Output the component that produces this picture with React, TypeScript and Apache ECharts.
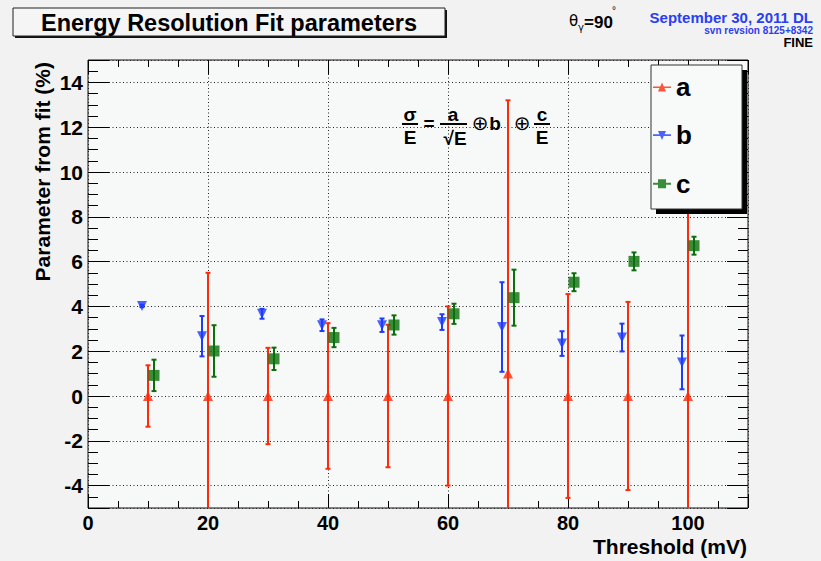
import React, { useEffect, useRef } from 'react';
import * as echarts from 'echarts';

// ---- data ----
const aX = [10, 20, 30, 40, 50, 60, 70, 80, 90, 100];
const aValues = [0, 0, 0, 0, 0, 0, 1.0, 0, 0, 0];
const aErrors = [1.37, 5.5, 2.15, 3.25, 3.18, 4.0, 12.2, 4.55, 4.2, 9.0];

const bX = [9, 19, 29, 39, 49, 59, 69, 79, 89, 99];
const bValues = [4.02, 2.67, 3.67, 3.16, 3.16, 3.3, 3.08, 2.34, 2.61, 1.5];
const bErrors = [0.05, 0.9, 0.22, 0.26, 0.3, 0.35, 2.0, 0.55, 0.62, 1.2];

const cX = [11, 21, 31, 41, 51, 61, 71, 81, 91, 101];
const cValues = [0.92, 2.01, 1.66, 2.61, 3.17, 3.67, 4.39, 5.08, 6.01, 6.71];
const cErrors = [0.7, 1.15, 0.5, 0.43, 0.43, 0.45, 1.25, 0.4, 0.4, 0.4];

const seriesNames = ['a', 'b', 'c'];
const xTickLabels = [0, 20, 40, 60, 80, 100];
const yTickLabels = [-4, -2, 0, 2, 4, 6, 8, 10, 12, 14];

const FONT = "'Liberation Sans', Arial, Helvetica, sans-serif";
const RED = '#ff2a0a';
const BLUE = '#1e3cff';
const GREEN = '#0b700b';

function errData(xs: number[], vs: number[], es: number[]) {
  return xs.map((x, i) => [x, vs[i], vs[i] - es[i], vs[i] + es[i]]);
}

function errSeries(name: string, data: number[][], color: string) {
  return {
    type: 'custom',
    name,
    data,
    clip: true,
    silent: true,
    z: 3,
    encode: { x: 0, y: 1 },
    renderItem: (params: any, api: any) => {
      const x = api.value(0);
      const top = api.coord([x, api.value(3)]);
      const bot = api.coord([x, api.value(2)]);
      const style = { stroke: color, lineWidth: 2 };
      const cap = 2.5;
      return {
        type: 'group',
        children: [
          { type: 'line', shape: { x1: top[0], y1: top[1], x2: bot[0], y2: bot[1] }, style },
          { type: 'line', shape: { x1: top[0] - cap, y1: top[1], x2: top[0] + cap, y2: top[1] }, style },
          { type: 'line', shape: { x1: bot[0] - cap, y1: bot[1], x2: bot[0] + cap, y2: bot[1] }, style },
        ],
      };
    },
  };
}

const tickStyle = { color: '#000', width: 1 };

function xAx(position: string, interval: number, len: number, major: boolean, labels: boolean) {
  return {
    type: 'value',
    position,
    min: 0,
    max: 110,
    interval,
    axisLine: { show: false, onZero: false },
    axisTick: { show: true, inside: true, length: len, lineStyle: tickStyle },
    splitLine: {
      show: major && labels,
      lineStyle: { color: '#222', width: 1, type: [1, 2.5] },
    },
    axisLabel: {
      show: labels,
      margin: 5,
      color: '#000',
      fontFamily: FONT,
      fontWeight: 'bold',
      fontSize: 20,
      lineHeight: 20,
      formatter: (v: number) => (xTickLabels.indexOf(v) >= 0 ? String(v) : ''),
    },
  };
}

function yAx(position: string, minor: boolean, labels: boolean) {
  const base: any = {
    type: 'value',
    position,
    min: -5,
    max: 15,
    axisLine: { show: false, onZero: false },
    axisTick: { show: true, inside: true, length: minor ? 10 : 21, lineStyle: tickStyle },
    splitLine: {
      show: !minor && labels,
      lineStyle: { color: '#222', width: 1, type: [1, 2.5] },
    },
    axisLabel: {
      show: labels,
      margin: 5,
      color: '#000',
      fontFamily: FONT,
      fontWeight: 'bold',
      fontSize: 21,
      formatter: (v: number) => (yTickLabels.indexOf(v) >= 0 ? String(v) : ''),
    },
  };
  if (minor) base.interval = 0.5;
  else base.splitNumber = 10;
  return base;
}

function legendIcon(kind: string) {
  if (kind === 'a') return 'path://M0,4 L18,4 L18,5.6 L0,5.6 Z M9,0 L13,9 L5,9 Z';
  if (kind === 'b') return 'path://M0,3.4 L18,3.4 L18,5 L0,5 Z M5,0 L13,0 L9,9 Z';
  return 'path://M0,3.5 L18,3.5 L18,5.5 L0,5.5 Z M5,0 L13,0 L13,9 L5,9 Z';
}

function ftext(x: number, y: number, text: string, size = 19, extra: any = {}) {
  return {
    type: 'text',
    x,
    y,
    z: 10,
    style: {
      text,
      fill: '#000',
      font: `bold ${size}px ${FONT}`,
      textAlign: 'center',
      textVerticalAlign: 'middle',
      ...extra,
    },
  };
}

function fline(x1: number, x2: number, y: number) {
  return { type: 'line', z: 10, shape: { x1, y1: y, x2, y2: y }, style: { stroke: '#000', lineWidth: 2 } };
}

export default function App() {
  const ref = useRef<HTMLDivElement>(null);

  useEffect(() => {
    if (!ref.current) return;
    const chart = echarts.init(ref.current, undefined, { renderer: 'svg' });

    const option: any = {
      animation: false,
      backgroundColor: '#f2f2f2',
      grid: {
        left: 88,
        right: 73,
        top: 60,
        bottom: 53,
        show: true,
        backgroundColor: '#f6f9f7',
        borderColor: '#111',
        borderWidth: 1,
      },
      xAxis: [
        xAx('bottom', 20, 14, true, true),
        xAx('bottom', 5, 7, false, false),
        xAx('top', 20, 14, true, false),
        xAx('top', 5, 7, false, false),
      ],
      yAxis: [
        yAx('left', false, true),
        yAx('left', true, false),
        yAx('right', false, false),
        yAx('right', true, false),
      ],
      legend: {
        orient: 'vertical',
        left: 653,
        top: 74,
        padding: 0,
        itemGap: 22.4,
        itemWidth: 18,
        itemHeight: 9,
        z: 20,
        selectedMode: false,
        textStyle: { fontFamily: FONT, fontWeight: 'bold', fontSize: 26, lineHeight: 25, color: '#000' },
        data: seriesNames.map((n) => ({ name: n, icon: legendIcon(n) })),
      },
      series: [
        errSeries('a-err', errData(aX, aValues, aErrors), RED),
        errSeries('b-err', errData(bX, bValues, bErrors), BLUE),
        errSeries('c-err', errData(cX, cValues, cErrors), GREEN),
        {
          type: 'scatter',
          name: 'a',
          z: 5,
          symbol: 'triangle',
          symbolSize: 10,
          itemStyle: { color: RED },
          data: aX.map((x, i) => [x, aValues[i]]),
        },
        {
          type: 'scatter',
          name: 'b',
          z: 5,
          symbol: 'triangle',
          symbolRotate: 180,
          symbolSize: 10,
          itemStyle: { color: BLUE },
          data: bX.map((x, i) => [x, bValues[i]]),
        },
        {
          type: 'scatter',
          name: 'c',
          z: 5,
          symbol: 'rect',
          symbolSize: 11,
          itemStyle: { color: GREEN },
          data: cX.map((x, i) => [x, cValues[i]]),
        },
      ],
      graphic: [
        // title box
        { type: 'rect', z: 10, shape: { x: 15, y: 10, width: 432, height: 28 }, style: { fill: '#111' } },
        {
          type: 'rect',
          z: 11,
          shape: { x: 13, y: 8, width: 432, height: 28 },
          style: { fill: '#f5f5f5', stroke: '#222', lineWidth: 1 },
        },
        {
          type: 'text',
          z: 12,
          x: 229,
          y: 22.5,
          style: {
            text: 'Energy Resolution Fit parameters',
            fill: '#000',
            font: `bold 23.5px ${FONT}`,
            textAlign: 'center',
            textVerticalAlign: 'middle',
          },
        },
        // theta label
        { type: 'text', z: 10, x: 569, y: 21, style: { text: 'θ', fill: '#000', font: `15px 'DejaVu Sans', sans-serif`, textVerticalAlign: 'middle' } },
        { type: 'text', z: 10, x: 578, y: 27, style: { text: 'γ', fill: '#000', font: `10px 'DejaVu Sans', sans-serif`, textVerticalAlign: 'middle' } },
        { type: 'text', z: 10, x: 584, y: 22, style: { text: '=90', fill: '#000', font: `bold 17px ${FONT}`, textVerticalAlign: 'middle' } },
        { type: 'text', z: 10, x: 612, y: 10, style: { text: '°', fill: '#000', font: `10px ${FONT}`, textVerticalAlign: 'middle' } },
        // date / svn / FINE
        { type: 'text', z: 10, x: 813, y: 17, style: { text: 'September 30, 2011 DL', fill: '#2a3ff0', font: `bold 15px ${FONT}`, textAlign: 'right', textVerticalAlign: 'middle' } },
        { type: 'text', z: 10, x: 813, y: 30.5, style: { text: 'svn revsion 8125+8342', fill: '#2a3ff0', font: `bold 10px ${FONT}`, textAlign: 'right', textVerticalAlign: 'middle' } },
        { type: 'text', z: 10, x: 813, y: 42.5, style: { text: 'FINE', fill: '#000', font: `bold 13px ${FONT}`, textAlign: 'right', textVerticalAlign: 'middle' } },
        // formula
        ftext(410, 114, 'σ', 19),
        fline(402, 418, 124),
        ftext(410, 137, 'E', 19),
        ftext(429, 123, '=', 19),
        ftext(453, 114, 'a', 19),
        fline(440, 467, 124),
        ftext(455, 138, '√E', 19),
        ftext(480, 123, '⊕', 20, { font: `20px 'DejaVu Sans', sans-serif` }),
        ftext(495, 123, 'b', 19),
        ftext(522, 123, '⊕', 20, { font: `20px 'DejaVu Sans', sans-serif` }),
        ftext(542, 114, 'c', 19),
        fline(534, 550, 124),
        ftext(542, 137, 'E', 19),
        // legend box
        { type: 'rect', z: 15, shape: { x: 656, y: 70, width: 91, height: 144 }, style: { fill: '#000' } },
        {
          type: 'rect',
          z: 16,
          shape: { x: 651, y: 65, width: 91, height: 144 },
          style: { fill: '#f7faf8', stroke: '#333', lineWidth: 1 },
        },
        // axis titles
        {
          type: 'text',
          z: 10,
          x: 42,
          y: 62,
          rotation: Math.PI / 2,
          style: {
            text: 'Parameter from fit (%)',
            fill: '#000',
            font: `bold 21px ${FONT}`,
            textAlign: 'right',
            textVerticalAlign: 'middle',
          },
        },
        {
          type: 'text',
          z: 10,
          x: 747,
          y: 546,
          style: {
            text: 'Threshold (mV)',
            fill: '#000',
            font: `bold 21px ${FONT}`,
            textAlign: 'right',
            textVerticalAlign: 'middle',
          },
        },
      ],
    };

    chart.setOption(option);
    return () => chart.dispose();
  }, []);

  return (
    <div
      ref={ref}
      style={{ position: 'fixed', left: 0, top: 0, width: 821, height: 561, background: '#f2f2f2' }}
    />
  );
}
